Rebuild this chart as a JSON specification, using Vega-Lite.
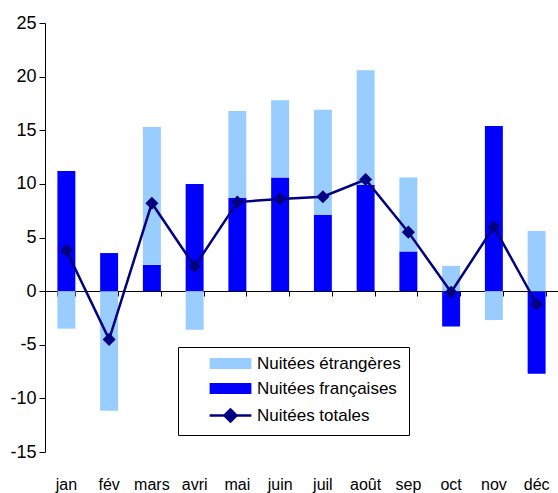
{
  "$schema": "https://vega.github.io/schema/vega-lite/v6.json",
  "width": 513,
  "height": 429,
  "autosize": {"type": "none"},
  "padding": {"left": 45, "top": 23, "right": 0, "bottom": 41},
  "background": "#ffffff",
  "config": {
    "view": {"stroke": null},
    "font": "Liberation Sans"
  },
  "data": {
    "values": [
      {"mois": "jan", "serie": "Nuitées françaises", "valeur": 11.2},
      {"mois": "jan", "serie": "Nuitées étrangères", "valeur": -3.5},
      {"mois": "jan", "serie": "Nuitées totales", "valeur": 3.8},
      {"mois": "fév", "serie": "Nuitées françaises", "valeur": 3.55},
      {"mois": "fév", "serie": "Nuitées étrangères", "valeur": -11.15},
      {"mois": "fév", "serie": "Nuitées totales", "valeur": -4.5},
      {"mois": "mars", "serie": "Nuitées françaises", "valeur": 2.45},
      {"mois": "mars", "serie": "Nuitées étrangères", "valeur": 12.85},
      {"mois": "mars", "serie": "Nuitées totales", "valeur": 8.2},
      {"mois": "avri", "serie": "Nuitées françaises", "valeur": 10.0},
      {"mois": "avri", "serie": "Nuitées étrangères", "valeur": -3.6},
      {"mois": "avri", "serie": "Nuitées totales", "valeur": 2.3},
      {"mois": "mai", "serie": "Nuitées françaises", "valeur": 8.7},
      {"mois": "mai", "serie": "Nuitées étrangères", "valeur": 8.1},
      {"mois": "mai", "serie": "Nuitées totales", "valeur": 8.3},
      {"mois": "juin", "serie": "Nuitées françaises", "valeur": 10.6},
      {"mois": "juin", "serie": "Nuitées étrangères", "valeur": 7.2},
      {"mois": "juin", "serie": "Nuitées totales", "valeur": 8.6},
      {"mois": "juil", "serie": "Nuitées françaises", "valeur": 7.1},
      {"mois": "juil", "serie": "Nuitées étrangères", "valeur": 9.8},
      {"mois": "juil", "serie": "Nuitées totales", "valeur": 8.8},
      {"mois": "août", "serie": "Nuitées françaises", "valeur": 9.9},
      {"mois": "août", "serie": "Nuitées étrangères", "valeur": 10.7},
      {"mois": "août", "serie": "Nuitées totales", "valeur": 10.4},
      {"mois": "sep", "serie": "Nuitées françaises", "valeur": 3.7},
      {"mois": "sep", "serie": "Nuitées étrangères", "valeur": 6.9},
      {"mois": "sep", "serie": "Nuitées totales", "valeur": 5.5},
      {"mois": "oct", "serie": "Nuitées françaises", "valeur": -3.3},
      {"mois": "oct", "serie": "Nuitées étrangères", "valeur": 2.35},
      {"mois": "oct", "serie": "Nuitées totales", "valeur": -0.1},
      {"mois": "nov", "serie": "Nuitées françaises", "valeur": 15.4},
      {"mois": "nov", "serie": "Nuitées étrangères", "valeur": -2.7},
      {"mois": "nov", "serie": "Nuitées totales", "valeur": 6.0},
      {"mois": "déc", "serie": "Nuitées françaises", "valeur": -7.7},
      {"mois": "déc", "serie": "Nuitées étrangères", "valeur": 5.6},
      {"mois": "déc", "serie": "Nuitées totales", "valeur": -1.2}
    ]
  },
  "resolve": {"axis": {"x": "independent"}},
  "layer": [
    {
      "transform": [{"filter": "datum.serie !== 'Nuitées totales'"}],
      "mark": {"type": "bar"},
      "encoding": {
        "x": {
          "field": "mois", "type": "nominal", "sort": null,
          "scale": {"paddingInner": 0.58, "paddingOuter": 0.29},
          "axis": {
            "title": null, "orient": "bottom", "domain": false, "ticks": false,
            "labelAngle": 0, "labelFontSize": 16, "labelColor": "#000000",
            "labelPadding": 24, "labelFont": "Liberation Sans"
          }
        },
        "y": {
          "field": "valeur", "type": "quantitative", "stack": "zero",
          "scale": {"domain": [-15, 25], "nice": false, "zero": false},
          "axis": {
            "title": null, "grid": false, "values": [-15, -10, -5, 0, 5, 10, 15, 20, 25],
            "domainColor": "#000000", "tickColor": "#000000", "tickSize": 6,
            "labelFontSize": 18, "labelColor": "#000000", "labelPadding": 3,
            "labelFont": "Liberation Sans", "labelExpr": "datum.value + ''"
          }
        },
        "order": {"field": "serie", "sort": "ascending"},
        "color": {
          "field": "serie", "type": "nominal",
          "scale": {
            "domain": ["Nuitées étrangères", "Nuitées françaises", "Nuitées totales"],
            "range": ["#99CCFF", "#0000FF", "#000080"]
          },
          "legend": {
            "title": null, "orient": "none", "legendX": 133, "legendY": 324,
            "direction": "vertical", "padding": 8,
            "strokeColor": "#000000", "fillColor": "#ffffff",
            "symbolSize": 121, "symbolType": "M-3.8,-1H3.8V1H-3.8Z",
            "symbolOffset": 36, "labelOffset": 18, "rowPadding": 7,
            "labelFontSize": 17, "labelFont": "Liberation Sans", "labelColor": "#000000",
            "labelExpr": "datum.label + '\u00a0\u00a0\u00a0\u00a0\u00a0\u00a0\u00a0\u00a0'",
            "encode": {
              "symbols": {
                "update": {
                  "shape": {"signal": "datum.value === 'Nuitées totales' ? 'M-3.8,0H3.8M-1.1,0L0,-1.1L1.1,0L0,1.1Z' : 'M-3.8,-1H3.8V1H-3.8Z'"},
                  "strokeWidth": {"signal": "datum.value === 'Nuitées totales' ? 2.5 : 0"},
                  "fill": {"signal": "scale('color', datum.value)"},
                  "stroke": {"signal": "scale('color', datum.value)"},
                  "opacity": {"value": 1},
                  "fillOpacity": {"value": 1},
                  "strokeOpacity": {"value": 1}
                }
              }
            }
          }
        }
      }
    },
    {
      "transform": [{"filter": "datum.serie === 'Nuitées totales'"}],
      "mark": {
        "type": "line", "color": "#000080", "strokeWidth": 2.5,
        "point": {"filled": true, "shape": "diamond", "size": 170, "color": "#000080", "opacity": 1}
      },
      "encoding": {
        "x": {
          "field": "mois", "type": "nominal", "sort": null,
          "axis": {
            "title": null, "orient": "bottom", "offset": -161, "labels": false,
            "domain": true, "domainColor": "#000000", "ticks": true, "tickBand": "extent",
            "tickColor": "#000000", "tickSize": 5
          }
        },
        "y": {
          "field": "valeur", "type": "quantitative",
          "axis": {
            "title": null, "grid": false, "values": [-15, -10, -5, 0, 5, 10, 15, 20, 25],
            "domainColor": "#000000", "tickColor": "#000000", "tickSize": 6,
            "labelFontSize": 18, "labelColor": "#000000", "labelPadding": 3,
            "labelFont": "Liberation Sans", "labelExpr": "datum.value + ''"
          }
        }
      }
    }
  ]
}
